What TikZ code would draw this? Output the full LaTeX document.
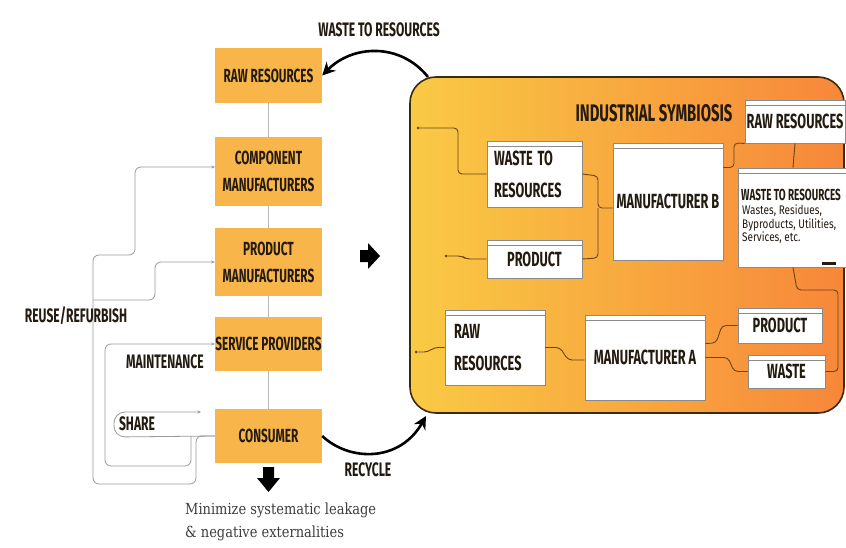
\documentclass[tikz,border=0pt]{standalone}
\usepackage{fontspec}
\usetikzlibrary{calc,arrows.meta}
\newfontfamily\hand{Fira Sans}[FakeStretch=0.62]
\newfontfamily\handsm{Fira Sans}[FakeStretch=0.8]
\newfontfamily\slab{DejaVu Serif}[FakeStretch=0.85]
\definecolor{boxor}{HTML}{F8B54A}
\definecolor{ink}{HTML}{231A10}
\definecolor{isyel}{HTML}{F9CA44}
\definecolor{isor}{HTML}{F7873A}
\definecolor{bigbd}{HTML}{3A2A12}
\definecolor{winbd}{HTML}{8A8A8A}
\definecolor{connc}{HTML}{6B4416}
\definecolor{loopc}{HTML}{9A9A9A}
\definecolor{slabc}{HTML}{3E3E3E}
\begin{document}
\begin{tikzpicture}[x=1pt,y=-1pt,
  lbox/.style={fill=boxor, minimum width=107, inner sep=0, align=center, text=ink,
    font={\hand\bfseries\fontsize{19}{27}\selectfont}},
  lbl/.style={text=ink, inner sep=0, font={\hand\bfseries\fontsize{19.5}{22}\selectfont}},
  win/.style={draw=winbd, line width=0.8, fill=white, inner sep=0, text=ink,
    font={\hand\bfseries\fontsize{20.5}{32}\selectfont},
    path picture={\draw[winbd, line width=0.6] ([yshift=-5pt]path picture bounding box.north west) -- ([yshift=-5pt]path picture bounding box.north east);}},
  loopln/.style={draw=loopc, line width=0.8, rounded corners=6},
  looparr/.style={loopln, -{Stealth[length=3.5pt,width=3pt]}},
  conn/.style={draw=connc, line width=0.9, rounded corners=4},
  bigarr/.style={draw=black, line width=2.6, -{Stealth[length=13pt,width=13pt]}},
  dotend/.style={fill=connc, circle, inner sep=0, minimum size=3}
]
\useasboundingbox (0,0) rectangle (846,548);
\clip (0,0) rectangle (846,548);
\fill[white] (0,0) rectangle (846,548);

% ---------- left chain ----------
\node[lbox, minimum height=55] (raw)   at (268.5,75.5) {RAW RESOURCES};
\node[lbox, minimum height=69] (comp)  at (268.5,171.5) {COMPONENT\\MANUFACTURERS};
\node[lbox, minimum height=68] (prodm) at (268.5,262) {PRODUCT\\MANUFACTURERS};
\node[lbox, minimum height=54] (serv)  at (268.5,344) {SERVICE PROVIDERS};
\node[lbox, minimum height=54] (cons)  at (268.5,436) {CONSUMER};

\draw[loopc!70, line width=0.8] (raw.south) -- (comp.north)
  (comp.south) -- (prodm.north) (prodm.south) -- (serv.north) (serv.south) -- (cons.north);

% loops
\draw[looparr] (cons.west) -- (196,436) -- (196,484) -- (93,484) -- (93,255) -- (135,255) -- (135,167) -- (215,167);
\draw[looparr] (93,300) -- (155,300) -- (155,262) -- (prodm.west);
\draw[looparr] (191,436) -- (191,466) -- (105,466) -- (105,344) -- (serv.west);
\draw[looparr, rounded corners=11] (cons.west) -- (114,437) -- (114,412) -- (201,412);

\node[lbl] (reuse) at (76,316) {REUSE/REFURBISH};
\node[lbl] (maint) at (165,362) {MAINTENANCE};
\node[lbl] (share) at (137,424) {SHARE};

% block arrows
\fill[black] (360,250) -- (368,250) -- (368,243) -- (380,256) -- (368,269) -- (368,262) -- (360,262) -- cycle;
\fill[black] (263,467) -- (274,467) -- (274,478) -- (280,478) -- (268.5,492) -- (257,478) -- (263,478) -- cycle;

\node[anchor=north west, align=left, inner sep=0, text=slabc,
  font={\slab\fontsize{15.3}{23}\selectfont}] (minim) at (185,503)
  {Minimize systematic leakage\\\& negative externalities};

% ---------- industrial symbiosis ----------
\node[draw=bigbd, line width=1.6, rounded corners=26, left color=isyel, right color=isor,
  minimum width=434, minimum height=336, inner sep=0] (isbox) at (627,245) {};
\node[text=ink, inner sep=0, font={\hand\bfseries\fontsize{24}{26}\selectfont}] (istitle) at (654,113) {INDUSTRIAL SYMBIOSIS};

\node[win, minimum width=95, minimum height=66, text width=81, align=left] (w2r) at (534.5,174) {WASTE\hspace{-2pt} TO\\RESOURCES};
\node[win, minimum width=95, minimum height=38, align=center] (prodB) at (534.5,259) {PRODUCT};
\node[win, minimum width=110, minimum height=117, align=center] (mfgB) at (668,201.5) {MANUFACTURER B};
\node[win, minimum width=100, minimum height=43, align=center] (rawTR) at (795,121.5) {RAW RESOURCES};
\node[win, minimum width=110, minimum height=99] (w2rR) at (793,217.5) {};
\node[anchor=north west, align=left, inner sep=0, text=ink,
  font={\hand\bfseries\fontsize{16}{18}\selectfont}] (w2rRt) at (741,189)
  {WASTE TO RESOURCES};
\node[anchor=north west, align=left, inner sep=0, text=ink,
  font={\handsm\fontsize{12.5}{13.5}\selectfont}] (w2rRs) at (742,205)
  {Wastes, Residues,\\Byproducts, Utilities,\\Services, etc.};
\fill[ink] (822,262) rectangle (836,264.5);

\node[win, minimum width=100, minimum height=75, text width=82, align=left] (rawBL) at (495,347.5) {RAW\\RESOURCES};
\node[win, minimum width=120, minimum height=85, align=center] (mfgA) at (645,357.5) {MANUFACTURER A};
\node[win, minimum width=84, minimum height=35, align=center] (prodA) at (780,325.5) {PRODUCT};
\node[win, minimum width=77, minimum height=33, align=center] (wasteA) at (786.5,371.5) {WASTE};

% connectors inside
\node[dotend] (d1) at (418,128) {};
\node[dotend] (d2) at (446,256) {};
\node[dotend] (d3) at (416,352) {};
\draw[conn] (w2r.west) -- (458,174) -- (458,128) -- (d1);
\draw[conn] (prodB.west) -- (466,259) -- (462,256) -- (d2);
\draw[conn] (w2r.east) -- (598,176) -- (598,208) -- ($(mfgB.west)+(0,6.5)$);
\draw[conn] (prodB.east) -- (598,258) -- (598,208);
\draw[conn] ($(mfgB.east)+(0,-34)$) -- (734,167.5) -- (734,143) -- (rawTR.south west);
\draw[conn] (rawTR.south) -- (w2rR.north);
\draw[conn] (w2rR.south) -- (797,290) -- (838,290) -- (838,371.5) -- (wasteA.east);
\draw[conn] (d3) -- (428,352) -- (434,347.5) -- (rawBL.west);
\draw[conn] (rawBL.east) -- (560,347.5) -- (568,360) -- ($(mfgA.west)+(0,2.5)$);
\draw[conn] ($(mfgA.east)+(0,-14)$) -- (716,343) -- (722,325.5) -- (prodA.west);
\draw[conn] ($(mfgA.east)+(0,0)$) -- (728,357.5) -- (734,371.5) -- (wasteA.west);

% ---------- curved arrows ----------
\coordinate (isnw) at (428,77);
\draw[bigarr] (isnw) .. controls (400,42) and (352,45) .. (raw.east);
\node[lbl] (w2rlbl) at (379,30) {WASTE TO RESOURCES};
\coordinate (isin) at (426,416);
\draw[bigarr] (cons.east) .. controls (350,462) and (400,462) .. (isin);
\node[lbl] (recyc) at (368,470) {RECYCLE};
\end{tikzpicture}
\end{document}
